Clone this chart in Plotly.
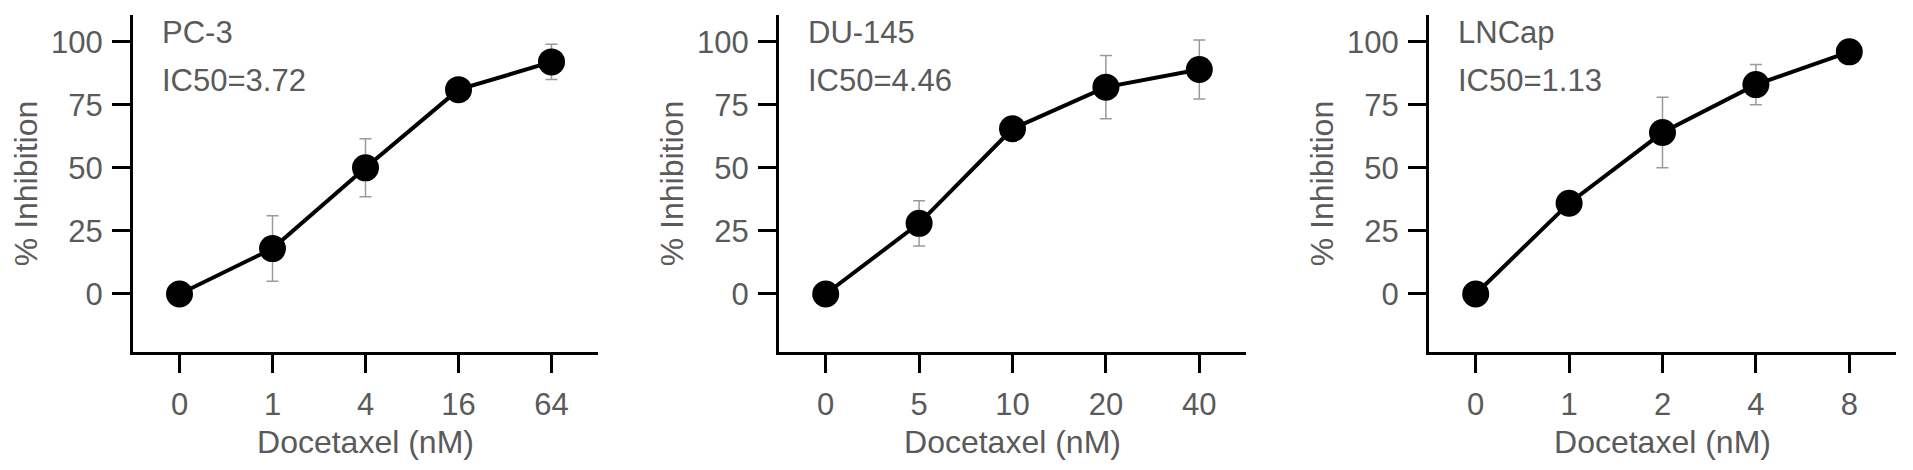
import plotly.graph_objects as go

# Docetaxel dose-response, three prostate cancer cell lines
cell_lines = ['PC-3', 'DU-145', 'LNCap']
ic50_labels = ['IC50=3.72', 'IC50=4.46', 'IC50=1.13']

pc3_doses = ['0', '1', '4', '16', '64']
pc3_inhib = [0, 18, 50, 81, 92]
pc3_err = [0, 13, 11.5, 0, 7]

du145_doses = ['0', '5', '10', '20', '40']
du145_inhib = [0, 28, 65.5, 82, 89]
du145_err = [0, 9, 0, 12.5, 11.7]

lncap_doses = ['0', '1', '2', '4', '8']
lncap_inhib = [0, 36, 64, 83, 96]
lncap_err = [0, 4, 14, 8, 0]

y_ticks = [0, 25, 50, 75, 100]

# the page body keeps its default 8px margin, so the figure is shrunk to fit
PAD = 8
W, H = 1913 - 2 * PAD, 470 - 2 * PAD
TEXT = '#5a5a5a'
FONT = 'Liberation Sans, Arial, sans-serif'

panels = [
    (pc3_doses, pc3_inhib, pc3_err),
    (du145_doses, du145_inhib, du145_err),
    (lncap_doses, lncap_inhib, lncap_err),
]
# page-pixel extents of each plot area (left, right)
x_px = [(133, 598), (779, 1246), (1429, 1896)]
top_px, bottom_px = 15, 352

fig = go.Figure()

for i, (doses, inhib, err) in enumerate(panels):
    n = '' if i == 0 else str(i + 1)
    fig.add_trace(go.Scatter(
        x=doses,
        y=inhib,
        mode='lines+markers',
        line=dict(color='black', width=4),
        marker=dict(color='black', size=27),
        error_y=dict(type='data', array=err, visible=True,
                     color='#9a9a9a', thickness=1.5, width=6),
        xaxis='x' + n,
        yaxis='y' + n,
        showlegend=False,
        hovertemplate='%{x} nM: %{y}%<extra></extra>'
    ))

    axis_common = dict(
        showline=True, linecolor='black', linewidth=3,
        ticks='outside', ticklen=18, tickwidth=3, tickcolor='black',
        showgrid=False, zeroline=False,
        tickfont=dict(family=FONT, size=31, color=TEXT),
    )
    l, r = x_px[i]
    fig.update_layout(**{
        'xaxis' + n: dict(
            axis_common,
            type='category',
            range=[-0.5, 4.5],
            domain=[(l - PAD) / W, (r - PAD) / W],
            anchor='y' + n,
            ticklabelstandoff=5,
            title=dict(text='Docetaxel (nM)',
                       font=dict(family=FONT, size=32, color=TEXT),
                       standoff=10),
        ),
        'yaxis' + n: dict(
            axis_common,
            range=[-23, 110.6],
            tickvals=y_ticks,
            domain=[(H - (bottom_px - PAD)) / H, (H - (top_px - PAD)) / H],
            anchor='x' + n,
            ticklabelstandoff=3,
            title=dict(text='% Inhibition',
                       font=dict(family=FONT, size=32, color=TEXT),
                       standoff=4),
        ),
    })

    fig.add_annotation(
        text=cell_lines[i], xref='x' + n + ' domain', yref='y' + n,
        x=0.057, y=103.6, xanchor='left', yanchor='middle', showarrow=False,
        font=dict(family=FONT, size=31, color=TEXT)
    )
    fig.add_annotation(
        text=ic50_labels[i], xref='x' + n + ' domain', yref='y' + n,
        x=0.057, y=84.5, xanchor='left', yanchor='middle', showarrow=False,
        font=dict(family=FONT, size=31, color=TEXT)
    )

fig.update_layout(
    width=W,
    height=H,
    margin=dict(l=0, r=0, t=0, b=0),
    plot_bgcolor='white',
    paper_bgcolor='white',
)

fig.write_html("out.html")
